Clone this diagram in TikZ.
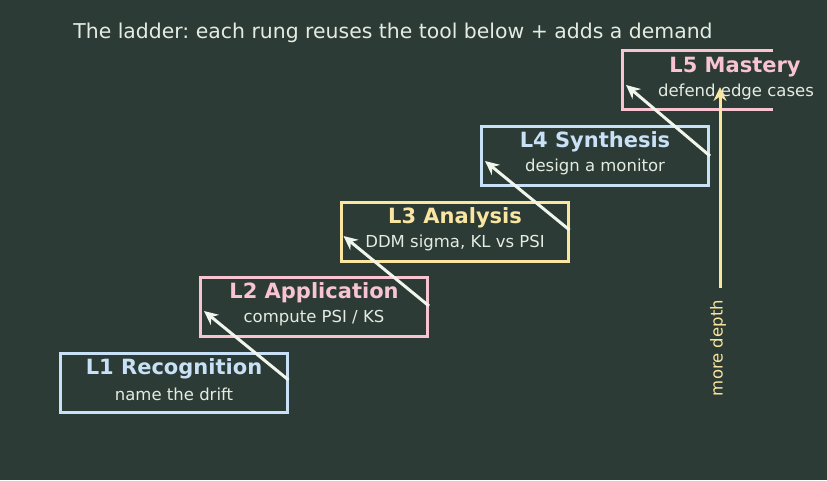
\documentclass[tikz,border=0pt]{standalone}
\usepackage{fontspec}
\setmainfont{DejaVu Sans}
\frenchspacing
\usetikzlibrary{calc, arrows.meta}
\definecolor{bgcol}{RGB}{44,59,53}
\definecolor{pinkc}{RGB}{248,196,210}
\definecolor{bluec}{RGB}{200,225,246}
\definecolor{yellowc}{RGB}{250,230,160}
\definecolor{paper}{RGB}{228,236,226}
\definecolor{chalk}{RGB}{240,246,236}
\begin{document}
\begin{tikzpicture}[x=1pt, y=1pt, >={Stealth[length=14pt, width=13pt]},
    rung/.style={draw=#1, line width=3pt, minimum width=227pt, minimum height=59pt, inner sep=0pt},
    rungtitle/.style={text=#1, font=\fontsize{21}{24}\selectfont\bfseries},
    rungsub/.style={text=paper, font=\fontsize{16.5}{19}\selectfont},
    climb/.style={->, line width=3pt, draw=chalk}]
    \fill[bgcol] (0, 0) rectangle (827, 480);
    \node[text=paper, font=\fontsize{20.4}{24}\selectfont] (head) at (393, 447) {The ladder: each rung reuses the tool below + adds a demand};

    % the rungs
    \node[rung=bluec] (l1) at (173.5, 97.5) {};
    \node[rungtitle=bluec] (l1t) at (174, 111) {L1 Recognition};
    \node[rungsub] (l1s) at (174, 86) {name the drift};
    \node[rung=pinkc] (l2) at (314, 173) {};
    \node[rungtitle=pinkc] (l2t) at (314, 187) {L2 Application};
    \node[rungsub] (l2s) at (314, 162) {compute PSI / KS};
    \node[rung=yellowc] (l3) at (454.5, 248) {};
    \node[rungtitle=yellowc] (l3t) at (455, 262) {L3 Analysis};
    \node[rungsub] (l3s) at (455, 237) {DDM sigma, KL vs PSI};
    \node[rung=bluec] (l4) at (595, 324) {};
    \node[rungtitle=bluec] (l4t) at (595, 338) {L4 Synthesis};
    \node[rungsub] (l4s) at (595, 313) {design a monitor};
    \draw[pinkc, line width=3pt] (773, 429) -| (622, 370) -- (773, 370);
    \coordinate (l5) at (622, 399.5);
    \node[rungtitle=pinkc] (l5t) at (735, 413) {L5 Mastery};
    \node[rungsub] (l5s) at (736, 388) {defend edge cases};

    % steps between rungs
    \draw[climb] ($(l1.east)+(0, 2.5)$) -- ($(l2.west)+(5, -4)$);
    \draw[climb] ($(l2.east)+(0, 1)$) -- ($(l3.west)+(4, -4)$);
    \draw[climb] ($(l3.east)+(0, 2)$) -- ($(l4.west)+(5, -5)$);
    \draw[climb] (l4.east) -- ($(l5)+(4, -4.5)$);

    \coordinate (foot) at (720, 192);
    \coordinate (tip) at (720, 393);
    \draw[->, line width=3pt, yellowc] (foot) -- (tip);
    \node[rotate=90, text=yellowc, font=\fontsize{16.5}{19}\selectfont] (depth) at (718, 132) {more depth};
\end{tikzpicture}
\end{document}
